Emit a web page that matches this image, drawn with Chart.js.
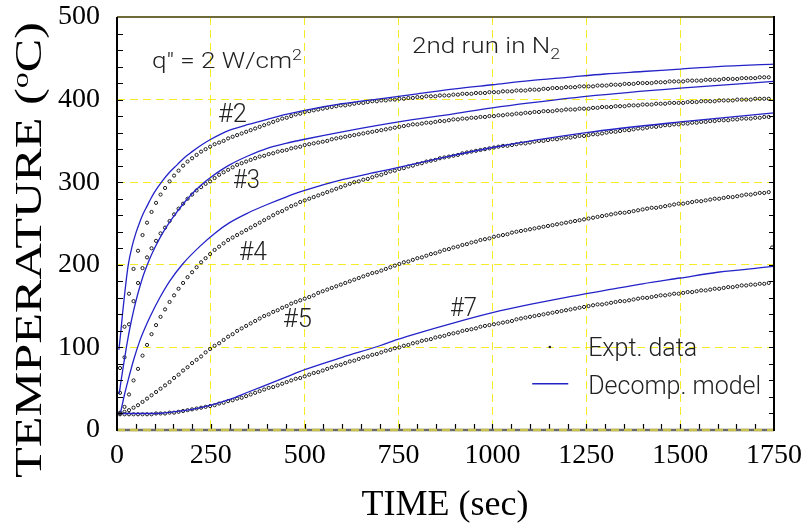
<!DOCTYPE html>
<html>
<head>
<meta charset="utf-8">
<script src="https://cdn.jsdelivr.net/npm/chart.js@4.4.1/dist/chart.umd.min.js"></script>
<style>
  html, body { margin: 0; padding: 0; background: #fff; }
  #wrap { width: 806px; height: 526px; }
</style>
</head>
<body>
<div id="wrap"><canvas id="myChart" width="806" height="526"></canvas></div>
<script>
// experimental data: one reading every 12 s starting at t = 8 s
const exptStart = 8;
const exptStep = 12;

const expt2 = [
  75, 125, 165, 195, 217, 236, 251, 264, 275, 285,
  293, 301, 308, 314, 320, 325, 329, 333, 337, 340,
  343, 346, 348, 350, 353, 355, 357, 359, 361, 363,
  365, 367, 369, 371, 373, 375, 377, 378, 380, 382,
  383, 385, 386, 387, 388, 389, 390, 391, 392, 393,
  393, 394, 395, 396, 396, 397, 398, 398, 399, 399,
  400, 400, 401, 401, 402, 402, 403, 403, 404, 404,
  404, 405, 405, 405, 406, 406, 407, 407, 407, 408,
  408, 408, 409, 409, 409, 410, 410, 410, 411, 411,
  411, 412, 412, 412, 413, 413, 414, 414, 414, 415,
  415, 415, 416, 416, 416, 416, 417, 417, 417, 418,
  418, 418, 419, 419, 419, 420, 420, 420, 420, 421,
  421, 421, 422, 422, 422, 422, 423, 423, 423, 423,
  424, 424, 424, 424, 425, 425, 425, 425, 426, 426,
  426, 426, 427, 427, 427
];

const expt3 = [
  45, 88, 128, 156, 178, 196, 209, 220, 229, 238,
  245, 253, 261, 268, 274, 280, 285, 290, 294, 298,
  301, 305, 309, 312, 315, 318, 321, 323, 325, 327,
  329, 331, 332, 334, 335, 337, 338, 339, 341, 342,
  343, 345, 346, 347, 348, 349, 350, 352, 353, 354,
  355, 356, 357, 358, 359, 360, 361, 362, 363, 364,
  365, 366, 367, 368, 369, 370, 370, 371, 372, 372,
  373, 374, 374, 375, 376, 376, 377, 377, 378, 378,
  379, 379, 380, 380, 381, 381, 382, 382, 383, 383,
  384, 384, 385, 385, 386, 386, 386, 387, 387, 388,
  388, 388, 389, 389, 389, 390, 390, 391, 391, 391,
  392, 392, 392, 393, 393, 393, 394, 394, 394, 395,
  395, 395, 396, 396, 396, 396, 397, 397, 397, 398,
  398, 398, 398, 399, 399, 399, 399, 400, 400, 400,
  400, 401, 401, 401, 401
];

const expt4 = [
  20, 28, 43, 60, 74, 90, 103, 116, 127, 137,
  146, 155, 163, 171, 178, 185, 191, 197, 203, 208,
  213, 218, 222, 226, 230, 233, 236, 239, 242, 245,
  248, 251, 254, 257, 260, 263, 265, 268, 271, 273,
  276, 278, 280, 282, 284, 286, 288, 290, 292, 294,
  296, 298, 300, 301, 303, 304, 306, 308, 309, 311,
  313, 314, 316, 317, 319, 320, 322, 323, 325, 326,
  327, 329, 330, 331, 332, 333, 335, 336, 337, 338,
  339, 340, 341, 342, 343, 344, 344, 345, 346, 347,
  347, 348, 349, 350, 350, 351, 352, 352, 353, 354,
  354, 355, 356, 356, 357, 358, 358, 359, 360, 361,
  361, 362, 363, 363, 364, 365, 365, 366, 367, 367,
  368, 369, 369, 370, 370, 371, 371, 372, 372, 373,
  373, 374, 374, 375, 375, 375, 376, 376, 377, 377,
  377, 378, 378, 379, 379
];

const expt5 = [
  21, 22, 24, 27, 30, 34, 38, 42, 46, 50,
  54, 58, 63, 67, 72, 76, 81, 85, 89, 94,
  98, 102, 105, 109, 113, 116, 120, 123, 126, 129,
  132, 135, 138, 140, 143, 145, 148, 150, 153, 155,
  157, 159, 161, 163, 166, 168, 170, 172, 174, 176,
  178, 180, 182, 184, 186, 188, 190, 191, 193, 195,
  197, 199, 201, 203, 204, 206, 208, 209, 211, 213,
  214, 216, 218, 219, 221, 222, 224, 225, 227, 228,
  230, 231, 232, 234, 235, 236, 237, 239, 240, 241,
  242, 243, 244, 245, 246, 247, 248, 249, 250, 251,
  252, 253, 254, 255, 256, 257, 258, 259, 260, 261,
  262, 263, 263, 264, 265, 266, 267, 268, 269, 269,
  270, 271, 272, 273, 274, 274, 275, 276, 277, 277,
  278, 279, 280, 280, 281, 282, 282, 283, 284, 285,
  285, 286, 287, 287, 288
];

const expt7 = [
  19, 19, 19, 19, 19, 19, 19, 19, 20, 20,
  20, 21, 21, 22, 23, 24, 25, 26, 27, 28,
  29, 30, 32, 33, 35, 36, 38, 39, 41, 43,
  45, 47, 49, 51, 52, 54, 56, 58, 60, 62,
  63, 65, 67, 69, 70, 72, 74, 76, 78, 79,
  81, 83, 84, 86, 88, 89, 91, 92, 94, 96,
  97, 99, 100, 102, 103, 105, 106, 108, 109, 110,
  112, 113, 114, 116, 117, 118, 120, 121, 122, 123,
  125, 126, 127, 128, 129, 130, 131, 132, 134, 135,
  136, 137, 138, 139, 140, 141, 142, 143, 144, 145,
  146, 147, 148, 149, 150, 151, 152, 152, 153, 154,
  155, 156, 156, 157, 158, 159, 160, 160, 161, 162,
  163, 163, 164, 165, 165, 166, 167, 167, 168, 169,
  169, 170, 171, 171, 172, 173, 173, 174, 175, 175,
  176, 176, 177, 177, 178
];

// lone reading near the right edge
const strayTime = [1745];
const strayTemp = [221];

// decomposition model curves
const model2Times = [5, 10, 15, 20, 25, 30, 40, 50, 60, 70, 80, 90, 100, 120, 140, 160, 180, 200, 225, 250, 275, 300, 350, 400, 450, 500, 600, 700, 800, 900, 1000, 1100, 1200, 1300, 1400, 1500, 1600, 1750];
const model2Temps = [97, 118, 142, 163, 183, 200, 222, 238, 251, 262, 271, 280, 288, 301, 312, 321, 330, 337, 345, 352, 358, 363, 370, 376, 382, 387, 395, 401, 407, 413, 418, 423, 427, 431, 434, 437, 440, 443];

const model3Times = [6, 10, 15, 20, 25, 30, 35, 45, 55, 70, 85, 100, 125, 150, 175, 200, 225, 250, 275, 300, 350, 400, 450, 500, 600, 750, 900, 1000, 1100, 1250, 1500, 1750];
const model3Temps = [44, 57, 72, 86, 100, 113, 125, 146, 164, 187, 205, 220, 241, 258, 273, 286, 297, 306, 314, 321, 332, 341, 347, 352, 361, 373, 383, 390, 396, 404, 414, 422];

const model4Times = [10, 20, 30, 45, 60, 75, 90, 115, 140, 175, 220, 260, 300, 350, 400, 450, 500, 600, 700, 750, 850, 1000, 1250, 1500, 1750];
const model4Temps = [22, 43, 61, 86, 107, 124, 139, 161, 180, 201, 222, 238, 251, 263, 273, 282, 290, 303, 313, 318, 328, 342, 360, 373, 384];

const model7Times = [0, 50, 100, 150, 200, 250, 300, 350, 400, 450, 500, 600, 700, 750, 800, 900, 1000, 1100, 1200, 1250, 1300, 1400, 1500, 1600, 1750];
const model7Temps = [20, 20, 20, 22, 25, 30, 37, 46, 55, 64, 73, 88, 102, 110, 117, 130, 142, 152, 161, 165, 169, 177, 184, 191, 198];

const xTicks = [0, 250, 500, 750, 1000, 1250, 1500, 1750];
const yTicks = [0, 100, 200, 300, 400, 500];

const exptTimes = expt2.map((_, i) => exptStart + i * exptStep);

function toPoints(xs, ys) {
    return ys.map((v, i) => ({ x: xs[i], y: v }));
}

const lineColor = '#2323c8';
const dotColor = '#1a1a1a';
const gridColor = 'rgb(245,235,40)';
const serif = '"Liberation Serif", "Times New Roman", serif';
const sans = 'Roboto, "Liberation Sans", sans-serif';

function dotSet(ys) {
    return {
        data: toPoints(exptTimes, ys),
        showLine: false,
        pointRadius: 1.6,
        pointBorderWidth: 1,
        pointBorderColor: dotColor,
        pointBackgroundColor: 'rgba(255,255,255,0)'
    };
}

function lineSet(xs, ys) {
    return {
        data: toPoints(xs, ys),
        showLine: true,
        borderColor: lineColor,
        borderWidth: 1.3,
        pointRadius: 0,
        cubicInterpolationMode: 'monotone'
    };
}

// text with raised / lowered parts, squeezed or stretched to a given width
function drawRich(ctx, parts, x, y, width) {
    let natural = 0;
    parts.forEach(p => {
        ctx.font = '300 ' + p.size + 'px ' + sans;
        p.w = ctx.measureText(p.text).width;
        natural += p.w;
    });
    ctx.save();
    ctx.translate(x, y);
    ctx.scale(width / natural, 1);
    let cx = 0;
    parts.forEach(p => {
        ctx.font = '300 ' + p.size + 'px ' + sans;
        ctx.fillText(p.text, cx, p.dy || 0);
        cx += p.w;
    });
    ctx.restore();
}

// curve labels: text, time, temperature, width
const curveLabels = [
    ['#2', 269, 373, 29],
    ['#3', 309, 293, 27],
    ['#4', 325, 206, 28],
    ['#5', 442, 125, 29],
    ['#7', 887, 138, 27]
];

const decor = {
    id: 'decor',
    afterDatasetsDraw(chart) {
        const { ctx, chartArea: a, scales: { x, y } } = chart;
        ctx.save();

        // inward minor ticks
        ctx.strokeStyle = '#000';
        ctx.lineWidth = 1.2;
        ctx.beginPath();
        for (let v = 20; v < 500; v += 20) {
            const py = Math.round(y.getPixelForValue(v)) + 0.5;
            ctx.moveTo(a.left, py); ctx.lineTo(a.left + 6, py);
            ctx.moveTo(a.right, py); ctx.lineTo(a.right - 5, py);
        }
        for (let v = 50; v < 1750; v += 50) {
            const px = Math.round(x.getPixelForValue(v)) + 0.5;
            ctx.moveTo(px, a.bottom); ctx.lineTo(px, a.bottom - 6);
        }
        ctx.stroke();

        // frame
        ctx.lineWidth = 2;
        ctx.strokeStyle = '#6f6a3a';
        ctx.beginPath(); ctx.moveTo(a.left, a.top); ctx.lineTo(a.right, a.top); ctx.stroke();
        ctx.strokeStyle = '#6a6a6a';
        ctx.lineWidth = 2.5;
        ctx.beginPath(); ctx.moveTo(a.left, a.bottom); ctx.lineTo(a.right, a.bottom); ctx.stroke();
        ctx.strokeStyle = 'rgba(225,215,70,0.8)';
        ctx.setLineDash([8, 5]);
        ctx.beginPath(); ctx.moveTo(a.left, a.bottom); ctx.lineTo(a.right, a.bottom); ctx.stroke();
        ctx.setLineDash([]);
        ctx.strokeStyle = '#000';
        ctx.lineWidth = 2;
        ctx.beginPath();
        ctx.moveTo(a.left, a.top); ctx.lineTo(a.left, a.bottom + 1);
        ctx.moveTo(a.right, a.top - 1); ctx.lineTo(a.right, a.bottom + 1);
        ctx.stroke();

        // curve labels and notes
        ctx.fillStyle = '#222';
        ctx.textBaseline = 'alphabetic';
        ctx.textAlign = 'left';
        const at = (t, T) => [x.getPixelForValue(t), y.getPixelForValue(T)];
        curveLabels.forEach(([txt, t, T, w]) => {
            const [px, py] = at(t, T);
            drawRich(ctx, [{ text: txt, size: 25 }], px, py, w);
        });
        let p = at(93, 438);
        drawRich(ctx, [{ text: 'q" = 2 W/cm', size: 22 }, { text: '2', size: 15, dy: -8 }], p[0], p[1], 150);
        p = at(786, 456);
        drawRich(ctx, [{ text: '2nd run in N', size: 22 }, { text: '2', size: 15, dy: 6 }], p[0], p[1], 148);

        // legend
        p = at(1153, 100.5);
        ctx.beginPath(); ctx.arc(p[0], p[1], 1.3, 0, Math.PI * 2); ctx.fill();
        p = at(1255, 89);
        drawRich(ctx, [{ text: 'Expt. data', size: 25 }], p[0], p[1], 109);
        const l1 = at(1106, 56), l2 = at(1202, 56);
        ctx.strokeStyle = lineColor; ctx.lineWidth = 1.3;
        ctx.beginPath(); ctx.moveTo(l1[0], l1[1]); ctx.lineTo(l2[0], l2[1]); ctx.stroke();
        p = at(1255, 43);
        drawRich(ctx, [{ text: 'Decomp. model', size: 25 }], p[0], p[1], 173);

        // axis titles
        ctx.fillStyle = '#000';
        ctx.font = '36px ' + serif;
        ctx.textAlign = 'center';
        ctx.fillText('TIME (sec)', 445, 515);

        ctx.textAlign = 'left';
        const big = '38px ' + serif, small = '24px ' + serif;
        ctx.font = big; const w1 = ctx.measureText('TEMPERATURE (').width;
        ctx.font = small; const w2 = ctx.measureText('o').width;
        ctx.font = big; const w3 = ctx.measureText('C)').width;
        const stretch = 456 / (w1 + w2 + w3);
        ctx.translate(41, 478);
        ctx.rotate(-Math.PI / 2);
        ctx.scale(stretch, 1);
        ctx.font = big; ctx.fillText('TEMPERATURE (', 0, 0);
        ctx.font = small; ctx.fillText('o', w1, -13);
        ctx.font = big; ctx.fillText('C)', w1 + w2, 0);
        ctx.restore();
    }
};

const ctx = document.getElementById('myChart').getContext('2d');
new Chart(ctx, {
    type: 'scatter',
    data: {
        datasets: [
            lineSet(model2Times, model2Temps),
            lineSet(model3Times, model3Temps),
            lineSet(model4Times, model4Temps),
            lineSet(model7Times, model7Temps),
            dotSet(expt2),
            dotSet(expt3),
            dotSet(expt4),
            dotSet(expt5),
            dotSet(expt7),
            {
                data: toPoints(strayTime, strayTemp),
                showLine: false,
                pointRadius: 1.6,
                pointBorderWidth: 1,
                pointBorderColor: dotColor,
                pointBackgroundColor: 'rgba(255,255,255,0)'
            }
        ]
    },
    options: {
        responsive: false,
        animation: false,
        devicePixelRatio: 1,
        layout: { padding: { left: 0, right: 32, top: 17, bottom: 0 } },
        plugins: {
            legend: { display: false },
            tooltip: { enabled: false }
        },
        scales: {
            x: {
                type: 'linear',
                min: 0,
                max: 1750,
                afterBuildTicks: s => { s.ticks = xTicks.map(v => ({ value: v })); },
                afterFit: s => { s.height = 96; s.paddingLeft = 0; s.paddingRight = 0; },
                ticks: {
                    color: '#000',
                    font: { family: serif, size: 28 },
                    padding: 9,
                    maxRotation: 0,
                    autoSkip: false,
                    callback: v => String(v)
                },
                grid: { color: gridColor, lineWidth: 1, drawTicks: false },
                border: { display: false, dash: [8, 5] }
            },
            y: {
                type: 'linear',
                min: 0,
                max: 500,
                afterBuildTicks: s => { s.ticks = yTicks.map(v => ({ value: v })); },
                afterFit: s => { s.width = 117; s.paddingTop = 0; s.paddingBottom = 0; },
                ticks: {
                    color: '#000',
                    font: { family: serif, size: 28 },
                    padding: 17,
                    callback: v => String(v)
                },
                grid: { color: gridColor, lineWidth: 1, drawTicks: false },
                border: { display: false, dash: [8, 5] }
            }
        }
    },
    plugins: [decor]
});
</script>
</body>
</html>
